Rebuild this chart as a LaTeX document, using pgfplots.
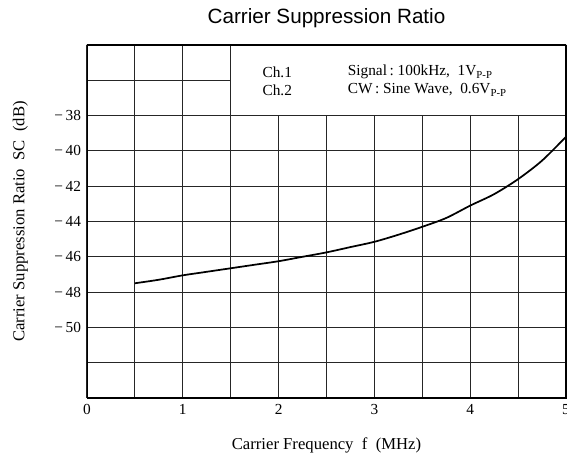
\documentclass[border=0pt]{standalone}
\usepackage{fontspec}
\setmainfont{Liberation Serif}
\newfontfamily\titlefont{Liberation Sans}
\usepackage{pgfplots}
\pgfplotsset{compat=1.18}
\begin{document}
\begin{tikzpicture}
\begin{axis}[
  set layers,
  at={(0,0)}, anchor=south west,
  width=359.25pt, height=264.75pt, scale only axis,
  xmin=0, xmax=5, ymin=-54, ymax=-34,
  xtick={0,1,2,3,4,5},
  minor xtick={0.5,1.5,2.5,3.5,4.5},
  ytick={-50,-48,-46,-44,-42,-40,-38},
  yticklabels={−\,50,−\,48,−\,46,−\,44,−\,42,−\,40,−\,38},
  minor ytick={-54,-52,-36,-34},
  grid=both,
  grid style={black!85, line width=0.8pt},
  minor grid style={black!85, line width=0.8pt},
  major tick length=0pt, minor tick length=0pt,
  tick label style={font=\fontsize{11.5}{13}\selectfont},
  yticklabel style={xshift=-1pt},
  xticklabel style={yshift=-1.5pt},
  /pgf/number format/assume math mode=true,
  title={\titlefont\fontsize{15.5}{18}\selectfont Carrier Suppression Ratio},
  title style={at={(axis description cs:0.5,1.054)}, anchor=center},
  xlabel={Carrier Frequency\ \ f\ \ (MHz)},
  xlabel style={at={(axis description cs:0.5,-0.1331)}, anchor=center, font=\fontsize{12.5}{14}\selectfont},
  ylabel={Carrier Suppression Ratio\ \ SC\ \ (dB)},
  ylabel style={at={(axis description cs:-0.1392,0.5)}, anchor=center, font=\fontsize{12.5}{14}\selectfont},
]
\fill[white] ([xshift=0.5pt,yshift=0.5pt]axis cs:1.5,-38) rectangle (axis cs:5,-34);
\node[anchor=west, inner sep=0pt, font=\fontsize{11.5}{13}\selectfont] at (axis cs:1.83,-35.53) {Ch.1};
\node[anchor=west, inner sep=0pt, font=\fontsize{11.5}{13}\selectfont] at (axis cs:1.83,-36.55) {Ch.2};
\node[anchor=west, inner sep=0pt, font=\fontsize{11.5}{13}\selectfont] at (axis cs:2.72,-35.53) {Signal\,:\ 100kHz,\ \ 1V\textsubscript{P-P}};
\node[anchor=west, inner sep=0pt, font=\fontsize{11.5}{13}\selectfont] at (axis cs:2.72,-36.55) {CW\,:\ Sine Wave,\ \ 0.6V\textsubscript{P-P}};
\addplot[black, line width=1.3pt, smooth] coordinates {
(0.5,-47.5) (0.75,-47.3) (1.0,-47.05) (1.25,-46.85) (1.5,-46.65) (1.75,-46.45)
(2.0,-46.25) (2.25,-46.0) (2.5,-45.75) (2.75,-45.45) (3.0,-45.15) (3.25,-44.75)
(3.5,-44.3) (3.75,-43.8) (4.0,-43.1) (4.25,-42.45) (4.5,-41.6) (4.75,-40.55) (5.0,-39.2)
};
\draw[line width=1.8pt] (rel axis cs:0,0) rectangle (rel axis cs:1,1);
\end{axis}
\pgfresetboundingbox
\path[use as bounding box] (-65.25pt,-45.75pt) rectangle (360pt,298.5pt);
\end{tikzpicture}
\end{document}
